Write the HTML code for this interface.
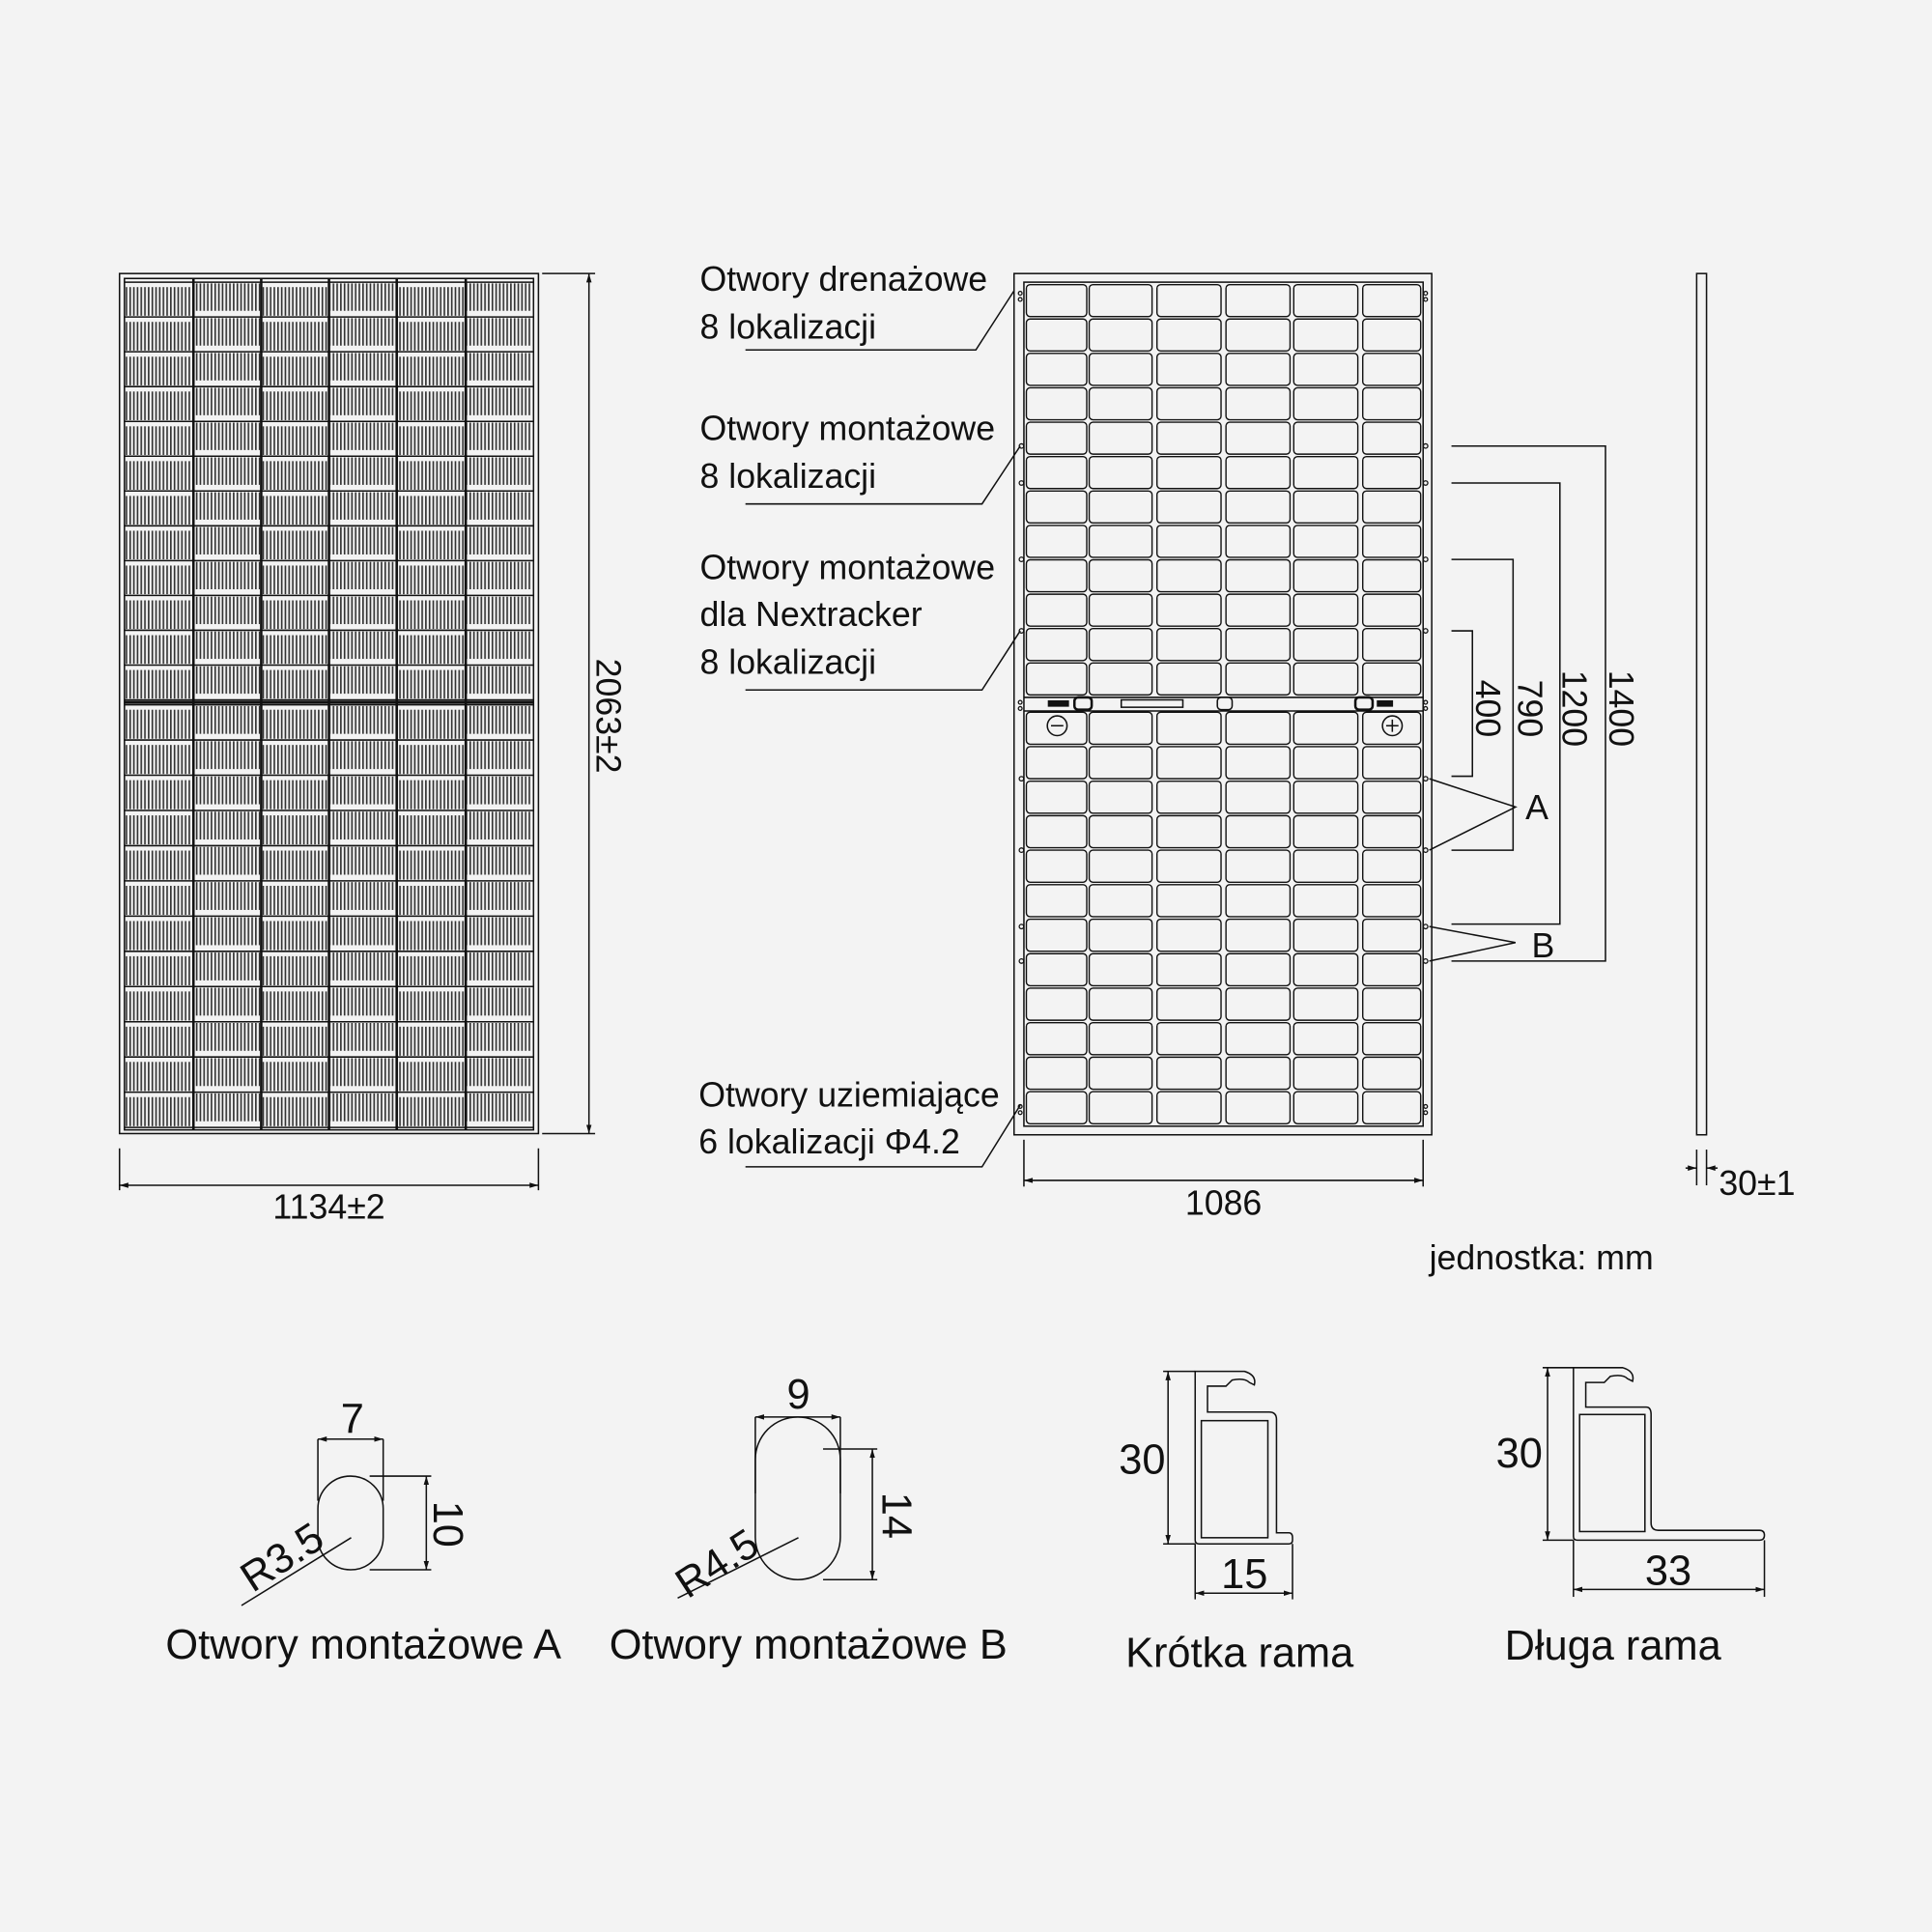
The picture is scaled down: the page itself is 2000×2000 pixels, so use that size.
<!DOCTYPE html>
<html><head><meta charset="utf-8"><style>
html,body{margin:0;padding:0;background:#f3f3f3}
svg{display:block}
text{font-family:"Liberation Sans Narrow","Liberation Sans",sans-serif;fill:#111}
</style></head><body>
<svg width="2000" height="2000" viewBox="0 0 1568 1568" xmlns="http://www.w3.org/2000/svg">
<defs>
<pattern id="st" width="3" height="10" patternUnits="userSpaceOnUse">
<rect width="3" height="10" fill="#f3f3f3"/><rect width="1.3" height="10" fill="#333"/>
</pattern>
<marker id="ar" viewBox="0 0 10 10" refX="10" refY="5" markerWidth="6" markerHeight="6" orient="auto-start-reverse"><path d="M0,2 L10,5 L0,8z" fill="#111"/></marker>
</defs>
<rect width="1568" height="1568" fill="#f3f3f3"/>
<g stroke="#111" fill="none" stroke-width="1.2">
<!-- front panel -->
<rect x="97" y="222" width="340" height="698"/>
<rect x="101" y="226" width="332" height="691"/>
</g>
<g id="front"></g>
<!-- back panel -->
<g stroke="#111" fill="none" stroke-width="1.2">
<rect x="823" y="222" width="339" height="699"/>
<rect x="831" y="229" width="324" height="685"/>
<line x1="831" y1="566" x2="1155" y2="566"/><line x1="831" y1="577" x2="1155" y2="577"/>
<rect x="910" y="568" width="50" height="6"/>
<rect x="872" y="566" width="14" height="10" rx="3" fill="#f3f3f3" stroke-width="2"/>
<rect x="988" y="566" width="12" height="10" rx="3" fill="#f3f3f3"/>
<rect x="1100" y="566" width="14" height="10" rx="3" fill="#f3f3f3" stroke-width="2"/>
<rect x="851" y="569" width="16" height="4" fill="#111"/>
<rect x="1118" y="569" width="12" height="4" fill="#111"/>
<circle cx="858" cy="589" r="8"/><line x1="853" y1="589" x2="863" y2="589"/>
<circle cx="1130" cy="589" r="8"/><line x1="1125" y1="589" x2="1135" y2="589"/><line x1="1130" y1="584" x2="1130" y2="594"/>
<!-- side view -->
<rect x="1377" y="222" width="8" height="699"/>
</g>
<g id="back"></g>
<g stroke="#111" fill="#f3f3f3" stroke-width="1" id="holes"></g>
<!-- leaders -->
<g stroke="#111" fill="none" stroke-width="1.2">
<polyline points="605,284 792,284 823,236"/>
<polyline points="605,409 797,409 828,362"/>
<polyline points="605,560 797,560 828,512"/>
<polyline points="605,947 797,947 828,897"/>
<!-- right dims -->
<polyline points="1178,362 1303,362 1303,780 1178,780"/>
<polyline points="1178,392 1266,392 1266,750 1178,750"/>
<polyline points="1178,454 1228,454 1228,690 1178,690"/>
<polyline points="1178,512 1195,512 1195,630 1178,630"/>
<polyline points="1160,632 1230,655 1160,690"/>
<polyline points="1160,752 1230,765 1160,780"/>
<!-- 1134 -->
<line x1="97" y1="932" x2="97" y2="966"/><line x1="437" y1="932" x2="437" y2="966"/>
<line x1="97" y1="962" x2="437" y2="962" marker-start="url(#ar)" marker-end="url(#ar)"/>
<!-- 2063 -->
<line x1="440" y1="222" x2="483" y2="222"/><line x1="440" y1="920" x2="483" y2="920"/>
<line x1="478" y1="222" x2="478" y2="920" marker-start="url(#ar)" marker-end="url(#ar)"/>
<!-- 1086 -->
<line x1="831" y1="925" x2="831" y2="963"/><line x1="1155" y1="925" x2="1155" y2="963"/>
<line x1="831" y1="958" x2="1155" y2="958" marker-start="url(#ar)" marker-end="url(#ar)"/>
<!-- 30±1 -->
<line x1="1377" y1="933" x2="1377" y2="962"/><line x1="1385" y1="933" x2="1385" y2="962"/>
<line x1="1368" y1="948" x2="1377" y2="948" marker-end="url(#ar)"/><line x1="1394" y1="948" x2="1385" y2="948" marker-end="url(#ar)"/>
<!-- hole A -->
<rect x="258" y="1198" width="53" height="76" rx="26.5"/>
<line x1="258" y1="1168" x2="258" y2="1218"/><line x1="311" y1="1168" x2="311" y2="1218"/>
<line x1="258" y1="1168" x2="311" y2="1168" marker-start="url(#ar)" marker-end="url(#ar)"/>
<line x1="300" y1="1198" x2="350" y2="1198"/><line x1="300" y1="1274" x2="350" y2="1274"/>
<line x1="346" y1="1198" x2="346" y2="1274" marker-start="url(#ar)" marker-end="url(#ar)"/>
<line x1="285" y1="1248" x2="196" y2="1303"/>
<!-- hole B -->
<rect x="613" y="1150" width="69" height="132" rx="34.5"/>
<line x1="613" y1="1150" x2="613" y2="1212"/><line x1="682" y1="1150" x2="682" y2="1212"/>
<line x1="613" y1="1150" x2="682" y2="1150" marker-start="url(#ar)" marker-end="url(#ar)"/>
<line x1="668" y1="1176" x2="712" y2="1176"/><line x1="668" y1="1282" x2="712" y2="1282"/>
<line x1="708" y1="1176" x2="708" y2="1282" marker-start="url(#ar)" marker-end="url(#ar)"/>
<line x1="648" y1="1248" x2="550" y2="1297"/>
<!-- short frame -->
<path d="M970,1113 L1010,1113 Q1020,1116 1018,1124 L1014,1122 Q1010,1118 1000,1120 L995,1125 L980,1125 L980,1146 L1030,1146 Q1036,1146 1036,1152 L1036,1244 L1046,1244 Q1049,1244 1049,1248 L1049,1250 Q1049,1253 1046,1253 L973,1253 Q970,1253 970,1250 Z"/>
<rect x="975" y="1153" width="54" height="95"/>
<line x1="944" y1="1113" x2="970" y2="1113"/><line x1="944" y1="1253" x2="970" y2="1253"/>
<line x1="948" y1="1113" x2="948" y2="1253" marker-start="url(#ar)" marker-end="url(#ar)"/>
<line x1="970" y1="1253" x2="970" y2="1298"/><line x1="1049" y1="1253" x2="1049" y2="1298"/>
<line x1="970" y1="1293" x2="1049" y2="1293" marker-start="url(#ar)" marker-end="url(#ar)"/>
<!-- long frame -->
<path d="M1277,1110 L1317,1110 Q1327,1113 1325,1121 L1321,1119 Q1317,1115 1307,1117 L1302,1122 L1287,1122 L1287,1142 L1336,1142 Q1340,1142 1340,1148 L1340,1236 Q1340,1242 1346,1242 L1428,1242 Q1432,1242 1432,1246 Q1432,1250 1428,1250 L1280,1250 Q1277,1250 1277,1247 Z"/>
<rect x="1282" y="1148" width="53" height="95"/>
<line x1="1252" y1="1110" x2="1277" y2="1110"/><line x1="1252" y1="1250" x2="1277" y2="1250"/>
<line x1="1256" y1="1110" x2="1256" y2="1250" marker-start="url(#ar)" marker-end="url(#ar)"/>
<line x1="1277" y1="1250" x2="1277" y2="1296"/><line x1="1432" y1="1250" x2="1432" y2="1296"/>
<line x1="1277" y1="1290" x2="1432" y2="1290" marker-start="url(#ar)" marker-end="url(#ar)"/>
</g>
<g font-size="28">
<text x="568" y="236">Otwory drenażowe</text>
<text x="568" y="275">8 lokalizacji</text>
<text x="568" y="357">Otwory montażowe</text>
<text x="568" y="396">8 lokalizacji</text>
<text x="568" y="470">Otwory montażowe</text>
<text x="568" y="508">dla Nextracker</text>
<text x="568" y="547">8 lokalizacji</text>
<text x="567" y="898">Otwory uziemiające</text>
<text x="567" y="936">6 lokalizacji Φ4.2</text>
<text x="267" y="989" text-anchor="middle">1134±2</text>
<text x="993" y="986" text-anchor="middle">1086</text>
<text x="1395" y="970">30±1</text>
<text x="1160" y="1030">jednostka: mm</text>
<text x="1238" y="665">A</text>
<text x="1243" y="777">B</text>
<text transform="translate(484,581) rotate(90)" text-anchor="middle">2063±2</text>
<text transform="translate(1306,575) rotate(90)" text-anchor="middle">1400</text>
<text transform="translate(1268,575) rotate(90)" text-anchor="middle">1200</text>
<text transform="translate(1232,575) rotate(90)" text-anchor="middle">790</text>
<text transform="translate(1198,575) rotate(90)" text-anchor="middle">400</text>
</g>
<g font-size="34">
<text x="286" y="1163" text-anchor="middle">7</text>
<text x="648" y="1143" text-anchor="middle">9</text>
<text transform="translate(352,1237) rotate(90)" text-anchor="middle">10</text>
<text transform="translate(716,1230) rotate(90)" text-anchor="middle">14</text>
<text transform="translate(205,1293) rotate(-33)">R3.5</text>
<text transform="translate(558,1298) rotate(-33)">R4.5</text>
<text x="927" y="1196" text-anchor="middle">30</text>
<text x="1010" y="1289" text-anchor="middle">15</text>
<text x="1233" y="1191" text-anchor="middle">30</text>
<text x="1354" y="1286" text-anchor="middle">33</text>
<text x="295" y="1346" text-anchor="middle">Otwory montażowe A</text>
<text x="656" y="1346" text-anchor="middle">Otwory montażowe B</text>
<text x="1006" y="1353" text-anchor="middle">Krótka rama</text>
<text x="1309" y="1347" text-anchor="middle">Długa rama</text>
</g>
<script>
(function(){
var ns="http://www.w3.org/2000/svg";
function el(p,t,a){var e=document.createElementNS(ns,t);for(var k in a)e.setAttribute(k,a[k]);p.appendChild(e);return e;}
var f=document.getElementById('front');
var cx=[101,157,212,267,322,378,433];
for(var h=0;h<2;h++){var y0=h?572:229,y1=h?915:568,rh=(y1-y0)/12;
for(var r=0;r<12;r++)for(var c=0;c<6;c++){
var x=cx[c]+1,y=y0+r*rh,w=cx[c+1]-cx[c]-2;
var off=(c%2)?{y:y+1,h:rh-6}:{y:y+4,h:rh-5};
el(f,'rect',{x:x,y:off.y,width:w,height:off.h,fill:'url(#st)'});
}
for(var r=0;r<=12;r++)el(f,'line',{x1:101,x2:433,y1:y0+r*rh,y2:y0+r*rh,stroke:'#111','stroke-width':1.2});
}
for(var c=1;c<6;c++)el(f,'line',{x1:cx[c],x2:cx[c],y1:226,y2:917,stroke:'#111','stroke-width':2});
el(f,'line',{x1:101,x2:433,y1:570,y2:570,stroke:'#111','stroke-width':2.5});
var b=document.getElementById('back');
var bx=[[833,882],[884,935],[939,991],[995,1047],[1050,1102],[1106,1153]];
for(var h=0;h<2;h++){var y0=h?577:230,y1=h?913:565,rh=(y1-y0)/12;
for(var r=0;r<12;r++)for(var c=0;c<6;c++){
el(b,'rect',{x:bx[c][0],y:y0+r*rh+1,width:bx[c][1]-bx[c][0],height:rh-2,rx:3,fill:'none',stroke:'#111','stroke-width':1.1});
}}
var hs=document.getElementById('holes');
[362,392,454,512,632,690,752,780].forEach(function(y){el(hs,'circle',{cx:829,cy:y,r:1.8});el(hs,'circle',{cx:1157,cy:y,r:1.8});});
[238,243,898,903,570,575].forEach(function(y){el(hs,'circle',{cx:828,cy:y,r:1.5});el(hs,'circle',{cx:1157,cy:y,r:1.5});});
})();
</script>
</svg>
</body></html>
